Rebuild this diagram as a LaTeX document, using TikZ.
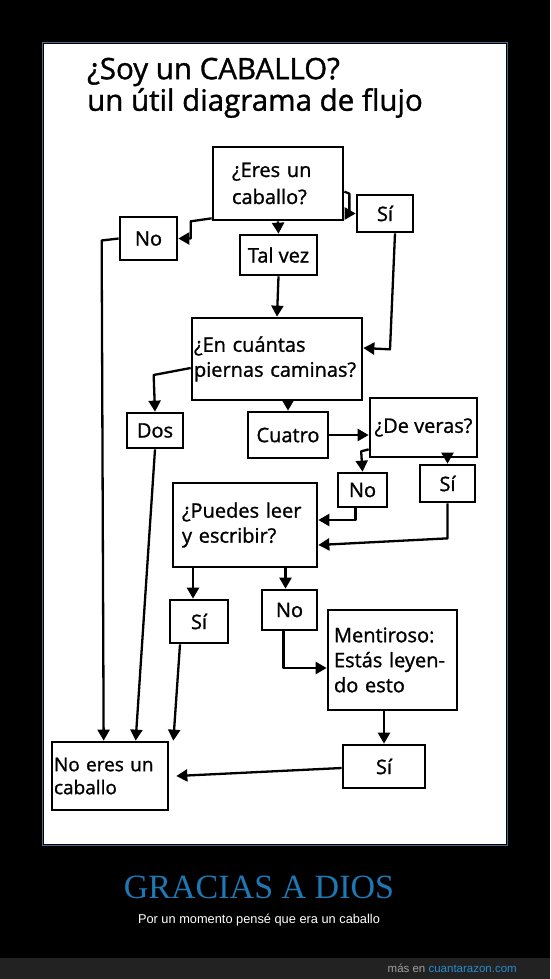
\documentclass[tikz,border=0pt]{standalone}
\usepackage{fontspec}
\setmainfont{Open Sans}
\newfontfamily\handfam[FakeBold=1.2]{Open Sans}
\newfontfamily\serifcap{Liberation Serif}
\newfontfamily\arialf{Liberation Sans}
\usetikzlibrary{arrows.meta,calc}
\definecolor{panelborder}{RGB}{70,105,140}
\definecolor{graciasblue}{RGB}{30,120,180}
\definecolor{linkblue}{RGB}{40,140,205}
\definecolor{barbg}{RGB}{34,34,34}
\definecolor{moregray}{RGB}{160,160,160}
\newcommand{\handfont}{\handfam\fontsize{20}{26}\selectfont}
\newcommand{\titlefont}{\handfam\fontsize{29.5}{32}\selectfont}
\begin{document}
\begin{tikzpicture}[x=1pt,y=-1pt,
  box/.style={draw=black, line width=2.7pt, inner sep=0pt, font=\handfont, text=black, fill=white},
  arr/.style={draw=black, line width=2.3pt, -{Triangle[length=11pt,width=12pt]}, line join=round},
  plain/.style={draw=black, line width=2.3pt, line join=round}]
% background and panel
\fill[black] (0,0) rectangle (550,979);
\fill[barbg] (0,958) rectangle (550,979);
\fill[white] (44,44) rectangle (506,844);
\draw[panelborder, line width=1pt] (42.5,42.5) rectangle (507.5,845.5);
\useasboundingbox (0,0) rectangle (550,979);

% title
\node[anchor=west, font=\titlefont, inner sep=0pt] (title1) at (87,72) {¿Soy un CABALLO?};
\node[anchor=west, font=\titlefont, inner sep=0pt] (title2) at (87,103) {un útil diagrama de flujo};

% boxes
\node[box, minimum width=130pt, minimum height=73pt, text width=92pt, align=left, font={\handfam\fontsize{20}{27}\selectfont}] (eres) at (278,183.5) {¿Eres un\\caballo?};
\node[box, minimum width=57pt, minimum height=43pt] (no1) at (148.5,238.5) {No};
\node[box, minimum width=56pt, minimum height=37pt] (si1) at (385,213.5) {Sí};
\node[box, minimum width=77pt, minimum height=40pt] (talvez) at (278.5,255) {Tal vez};
\node[box, minimum width=170pt, minimum height=82pt, text width=166pt, align=left, font={\handfam\fontsize{20}{25}\selectfont}] (en) at (277,359) {¿En cuántas\\piernas caminas?};
\node[box, minimum width=56pt, minimum height=35pt] (dos) at (155,430.5) {Dos};
\node[box, minimum width=80pt, minimum height=46pt] (cuatro) at (288,435) {Cuatro};
\node[box, minimum width=107pt, minimum height=59pt] (veras) at (423.5,427.5) {¿De veras?};
\node[box, minimum width=49pt, minimum height=34pt] (no2) at (362.5,490) {No};
\node[box, minimum width=55pt, minimum height=37pt] (si2) at (447.5,483.5) {Sí};
\node[box, minimum width=144pt, minimum height=84pt, text width=126pt, align=left, font={\handfam\fontsize{20}{25}\selectfont}] (puedes) at (245,525) {¿Puedes leer\\y escribir?};
\node[box, minimum width=58pt, minimum height=43pt] (si3) at (199,621.5) {Sí};
\node[box, minimum width=55pt, minimum height=40pt] (no3) at (289.5,610) {No};
\node[box, minimum width=129pt, minimum height=100pt, text width=117pt, align=left, font={\handfam\fontsize{20}{25}\selectfont}] (ment) at (392.5,660) {Mentiroso:\\Estás leyen-\\do esto};
\node[box, minimum width=82pt, minimum height=43pt] (si4) at (384,766.5) {Sí};
\node[box, minimum width=116pt, minimum height=68pt, text width=112pt, align=left, font={\handfam\fontsize{19}{23}\selectfont}] (noeres) at (110,776) {No eres un\\caballo};

% connectors
\draw[arr] ($(eres.south west)+(0,-3)$) -- ++(-21,3) |- (no1.east);
\draw[arr] (eres.south) -- (talvez.north);
\draw[arr] ($(eres.north east)+(0,46)$) -- ++(5,2) |- (si1.west);
\draw[arr] ($(si1.south)+(10,0)$) -- ++(-5,116) -- ($(en.east)+(0,-11)$);
\draw[arr] (talvez.south) -- (en.north);
\draw[arr] (no1.west) -- ++(-17,2) -- ($(noeres.north west)+(53,0)$);
\draw[arr] ($(en.west)+(0,9)$) -- ++(-37,7) -- (dos.north);
\draw[arr] (en.south -| cuatro.north) -- (cuatro.north);
\draw[arr] (cuatro.east) -- (cuatro.east -| veras.west);
\draw[arr] ($(veras.south west)+(0,-9)$) -- ++(-7.5,2) -- (no2.north);
\draw[arr] (veras.south -| si2.north) -- (si2.north);
\draw[arr] ($(no2.south)+(-7,0)$) |- ($(puedes.east)+(0,-5)$);
\draw[arr] (si2.south) -- ++(0,35) -- ($(puedes.east)+(0,20)$);
\draw[arr] ([xshift=-6pt]puedes.south -| si3.north) -- ([xshift=-6pt]si3.north);
\draw[arr] ([xshift=-4pt]puedes.south -| no3.north) -- ([xshift=-4pt]no3.north);
\draw[arr] (dos.south) -- ($(noeres.north west)+(85,0)$);
\draw[arr] ($(si3.south)+(-19,0)$) -- ($(noeres.north east)+(4,0)$);
\draw[arr] ($(no3.south)+(-6,0)$) |- ($(ment.west)+(0,8)$);
\draw[arr] (ment.south -| si4.north) -- (si4.north);
\draw[arr] ($(si4.west)+(0,1.5)$) -- ($(noeres.east)+(7,0)$);

% caption
\node[anchor=base, font={\serifcap\fontsize{34}{36}\selectfont}, text=graciasblue, inner sep=0pt] (gracias) at (259,898) {GRACIAS A DIOS};
\node[font={\arialf\fontsize{12.8}{15}\selectfont}, text=white, inner sep=0pt] (sub) at (259,920) {Por un momento pensé que era un caballo};
\node[anchor=east, font={\arialf\fontsize{11.5}{13}\selectfont}, inner sep=0pt] (more) at (517,968) {\textcolor{moregray}{más en} \textcolor{linkblue}{cuantarazon.com}};
\end{tikzpicture}
\end{document}
